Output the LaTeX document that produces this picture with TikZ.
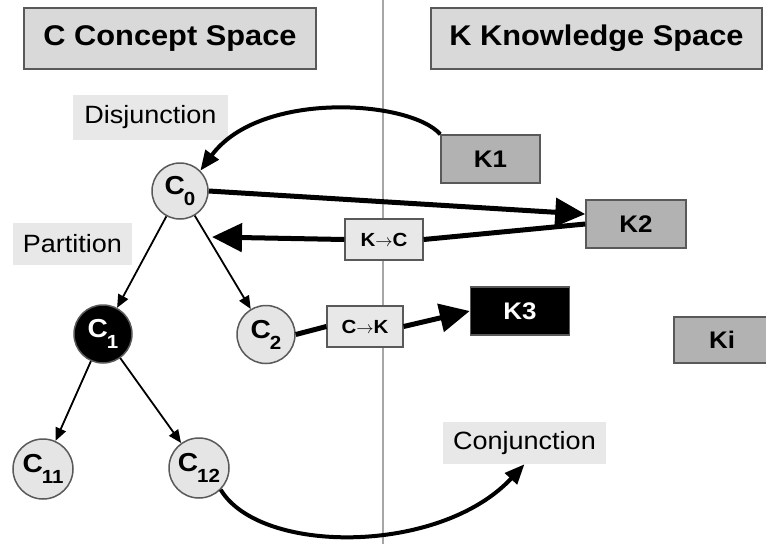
\documentclass[tikz,border=0pt]{standalone}
\usepackage{fontspec}
\setmainfont{Liberation Sans}[FakeStretch=1.08]
\usetikzlibrary{arrows.meta,calc}

\newcommand{\fsz}[1]{\fontsize{#1}{#1}\selectfont}
\newcommand{\csub}[2]{\textbf{#1\kern-1pt\raisebox{-0.42em}{\fsz{19}#2}}}

\definecolor{titlegray}{gray}{0.85}
\definecolor{labgray}{gray}{0.91}
\definecolor{kgray}{gray}{0.70}
\definecolor{cgray}{gray}{0.90}
\definecolor{edgegray}{gray}{0.35}

\begin{document}
\begin{tikzpicture}[x=1pt,y=-1pt,
	titlebox/.style={draw=edgegray, line width=1.5pt, fill=titlegray, minimum height=61pt, inner sep=0pt, font=\fsz{28.5}\bfseries},
	lab/.style={fill=labgray, minimum height=43pt, inner sep=0pt, font=\fsz{25}},
	kbox/.style={draw=edgegray, line width=1.5pt, fill=kgray, minimum width=99pt, minimum height=48pt, inner sep=0pt, font=\fsz{24}\bfseries},
	opbox/.style={draw=edgegray, line width=1.2pt, fill=labgray, minimum width=77pt, minimum height=41pt, inner sep=0pt, font=\fsz{19}\bfseries},
	cnode/.style={circle, draw=edgegray, line width=1.5pt, fill=cgray, minimum size=58pt, inner sep=0pt, font=\fsz{26}},
	treearrow/.style={line width=1.8pt, -{Triangle[length=13pt,width=11pt]}},
	bigarrow/.style={line width=5pt, -{Triangle[length=30pt,width=28pt]}},
	curvearrow/.style={line width=4pt, -{Triangle[length=20pt,width=16pt]}}]
	\useasboundingbox[fill=white] (0,0) rectangle (766,544);

	% the two spaces
	\draw[line width=2pt, gray!70] (383,0) -- (383,544);
	\node[titlebox, minimum width=292pt] (ctitle) at (170,38.5) {C Concept Space};
	\node[titlebox, minimum width=331pt] (ktitle) at (596.5,38.5) {K Knowledge Space};

	% labels
	\node[lab, minimum width=155pt, minimum height=45pt] (disj) at (150.5,117.5) {Disjunction};
	\node[lab, minimum width=119pt, minimum height=42pt] (part) at (72.5,244) {Partition};
	\node[lab, minimum width=163pt, minimum height=42pt] (conj) at (524.5,443) {Conjunction};

	% concepts
	\node[cnode, minimum size=56pt] (C0) at (180,191) {\csub{C}{0}};
	\node[cnode, fill=black, text=white] (C1) at (103,334) {\csub{C}{1}};
	\node[cnode] (C2) at (266,334.5) {\csub{C}{2}};
	\node[cnode, minimum size=60pt] (C11) at (43,469) {\csub{C}{11}};
	\node[cnode, minimum size=60pt] (C12) at (199,468) {\csub{C}{12}};

	% knowledge
	\node[kbox] (K1) at (490.5,159) {K1};
	\node[kbox, minimum width=100pt] (K2) at (636,224) {K2};
	\node[kbox, fill=black, text=white] (K3) at (520,311) {K3};
	\node[kbox, minimum width=96pt, minimum height=46pt] (Ki) at (722,340) {Ki};

	% operators
	\node[opbox, minimum width=78pt] (kc) at (384,239.5) {K$\rightarrow$C};
	\node[opbox, minimum width=76pt] (ck) at (365,326.5) {C$\rightarrow$K};
	\coordinate (kctip) at (212,237);

	% partition tree
	\draw[treearrow] (C0) -- (C1);
	\draw[treearrow] (C0) -- (C2);
	\draw[treearrow] (C1) -- (C11);
	\draw[treearrow] (C1) -- (C12);

	% K <-> C
	\draw[curvearrow] (K1.north west) .. controls (410,100) and (260,90) .. (C0.north east);
	\draw[bigarrow] (C0.east) -- ($(K2.north west)!0.3!(K2.south west)$);
	\draw[line width=5pt] (K2.west) -- (kc.east);
	\draw[bigarrow] (kc.west) -- (kctip);
	\draw[line width=5pt] (C2.east) -- (ck.west);
	\draw[bigarrow] (ck.east) -- (K3.west);
	\draw[curvearrow] (C12.south east) .. controls (260,555) and (440,555) .. (conj.south);
\end{tikzpicture}
\end{document}
